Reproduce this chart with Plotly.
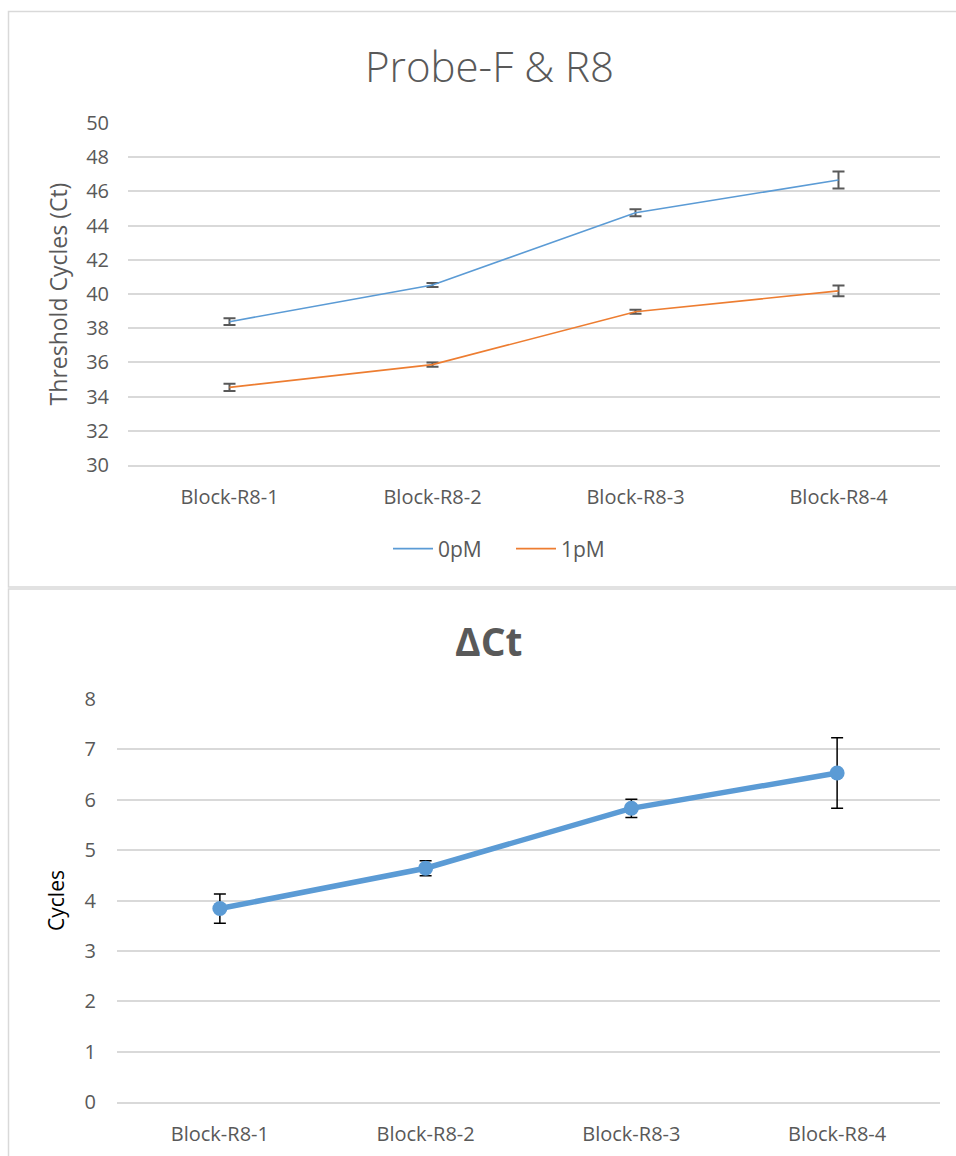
import plotly.graph_objects as go

# ---- data ----
categories = ["Block-R8-1", "Block-R8-2", "Block-R8-3", "Block-R8-4"]
series_names = ["0pM", "1pM"]
ct_0pm = [38.38, 40.53, 44.75, 46.67]
ct_0pm_err = [0.20, 0.12, 0.21, 0.50]
ct_1pm = [34.54, 35.87, 38.96, 40.18]
ct_1pm_err = [0.21, 0.12, 0.12, 0.31]
delta_ct = [3.84, 4.64, 5.83, 6.53]
delta_ct_err = [0.29, 0.15, 0.18, 0.70]

W, H = 956, 1156
FONT = "Open Sans"
GREY = "#595959"
GRID = "#d9d9d9"
BLUE = "#5B9BD5"
ORANGE = "#ED7D31"


def px_x(x):
    return x / W


def px_y(y):
    return 1 - y / H


fig = go.Figure()

# top panel: threshold cycles per series
for name, vals, errs, color in [
    (series_names[0], ct_0pm, ct_0pm_err, BLUE),
    (series_names[1], ct_1pm, ct_1pm_err, ORANGE),
]:
    fig.add_trace(go.Scatter(
        x=categories, y=vals, name=name, mode="lines",
        line=dict(color=color, width=1.6),
        error_y=dict(type="data", array=errs, visible=True,
                     color=GREY, thickness=2, width=6),
        xaxis="x", yaxis="y",
    ))

# bottom panel: delta Ct
fig.add_trace(go.Scatter(
    x=categories, y=delta_ct, name="ΔCt", mode="lines+markers",
    line=dict(color=BLUE, width=5.5),
    marker=dict(color=BLUE, size=15),
    error_y=dict(type="data", array=delta_ct_err, visible=True,
                 color="#000000", thickness=1.5, width=6),
    showlegend=False,
    xaxis="x2", yaxis="y2",
))

tick_font = dict(family=FONT, size=20, color=GREY)

fig.update_layout(
    width=W, height=H,
    margin=dict(l=0, r=0, t=0, b=0, autoexpand=False),
    paper_bgcolor="white", plot_bgcolor="white",
    font=dict(family=FONT, color=GREY),
    xaxis=dict(
        domain=[px_x(128), px_x(940)],
        anchor="y", type="category", range=[-0.5, 3.5],
        showgrid=False, showline=True, linecolor=GRID, linewidth=1.5,
        tickfont=tick_font, ticklabelstandoff=13, automargin=False,
    ),
    yaxis=dict(
        domain=[px_y(465), px_y(123)],
        anchor="x", range=[30, 50], dtick=2,
        showgrid=True, gridcolor=GRID, gridwidth=1.5,
        zeroline=False, showline=False, automargin=False,
        tickfont=tick_font, ticklabelstandoff=18,
        title=dict(text="Threshold Cycles (Ct)", standoff=12,
                   font=dict(family=FONT, size=23, color=GREY)),
    ),
    xaxis2=dict(
        domain=[px_x(117), px_x(940)],
        anchor="y2", type="category", range=[-0.5, 3.5],
        showgrid=False, showline=True, linecolor=GRID, linewidth=1.5,
        tickfont=tick_font, ticklabelstandoff=13, automargin=False,
    ),
    yaxis2=dict(
        domain=[px_y(1102), px_y(699)],
        anchor="x2", range=[0, 8], dtick=1,
        showgrid=True, gridcolor=GRID, gridwidth=1.5,
        zeroline=True, zerolinecolor=GRID, zerolinewidth=1.5,
        showline=False, automargin=False,
        tickfont=tick_font, ticklabelstandoff=20,
        title=dict(text="Cycles", standoff=14,
                   font=dict(family=FONT, size=21, color="#000000")),
    ),
    legend=dict(
        orientation="h", x=px_x(388), y=px_y(549),
        xanchor="left", yanchor="middle",
        font=dict(family=FONT, size=21, color=GREY),
        itemwidth=40, entrywidth=68, entrywidthmode="pixels",
        bgcolor="rgba(0,0,0,0)",
    ),
    annotations=[
        dict(text="Probe-F & R8", x=px_x(489), y=px_y(65),
             xref="paper", yref="paper", showarrow=False,
             xanchor="center", yanchor="middle",
             font=dict(family=FONT, size=42, color=GREY, weight=300)),
        dict(text="<b>ΔCt</b>", x=px_x(488), y=px_y(640),
             xref="paper", yref="paper", showarrow=False,
             xanchor="center", yanchor="middle",
             font=dict(family=FONT, size=39, color=GREY)),
    ],
    shapes=[
        dict(type="rect", xref="paper", yref="paper",
             x0=px_x(8.5), x1=px_x(990), y0=px_y(587), y1=px_y(11.5),
             line=dict(color=GRID, width=1.5), fillcolor="rgba(0,0,0,0)"),
        dict(type="rect", xref="paper", yref="paper",
             x0=px_x(8.5), x1=px_x(990), y0=px_y(1180), y1=px_y(589),
             line=dict(color=GRID, width=1.5), fillcolor="rgba(0,0,0,0)"),
    ],
)

fig.write_html("out.html")
